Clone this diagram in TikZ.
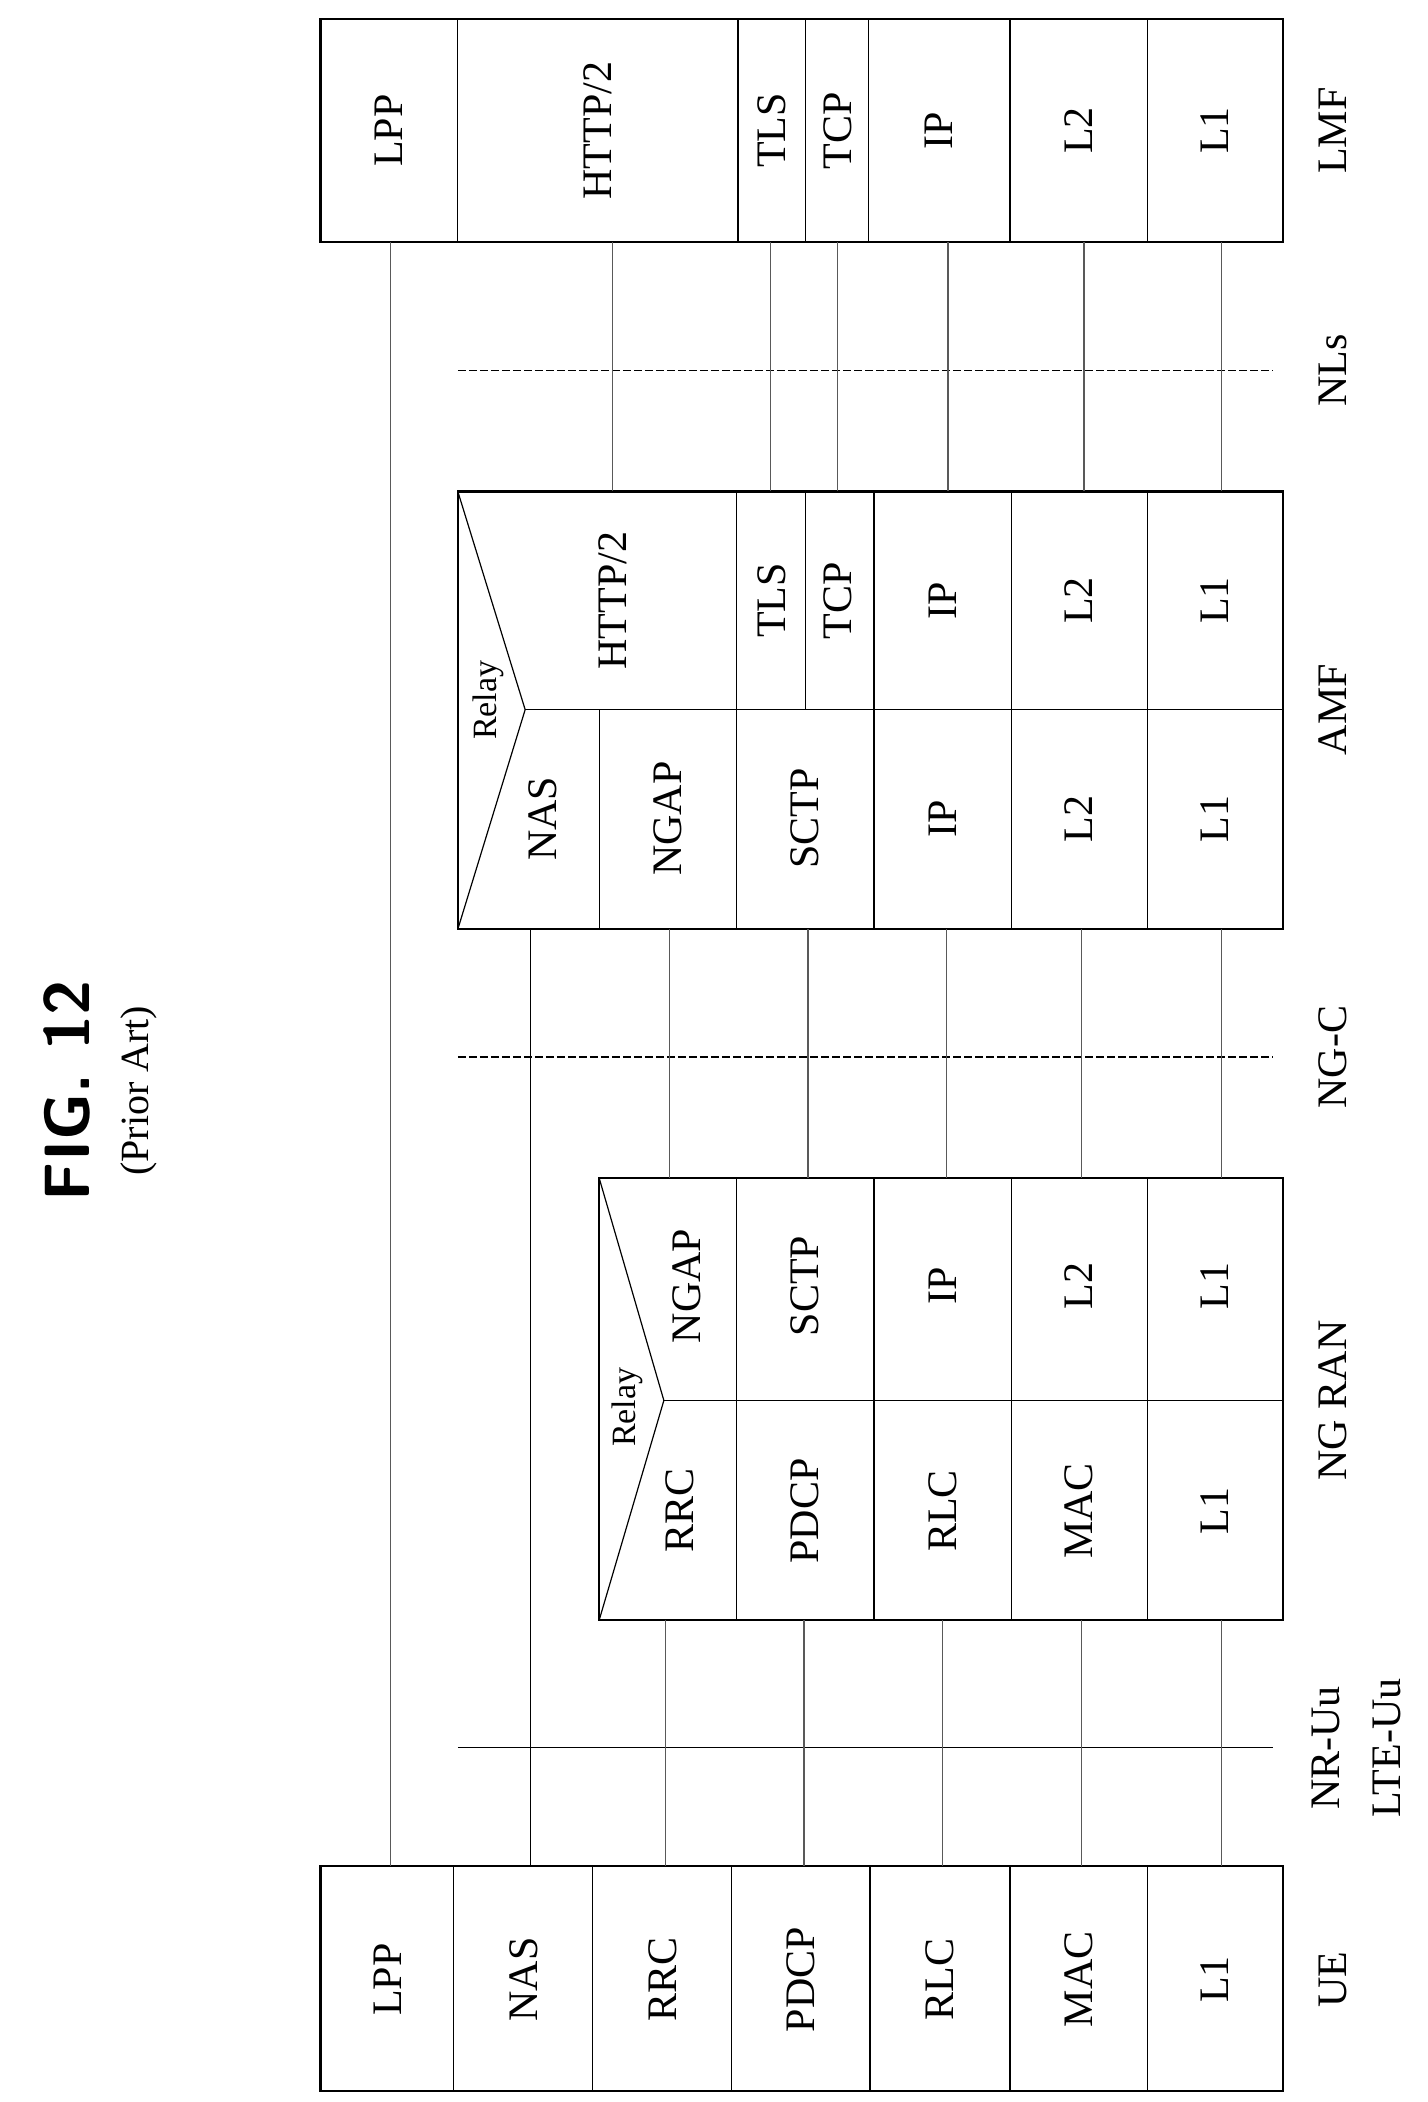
\documentclass[tikz,border=0pt]{standalone}
\usepackage{fontspec}
\setmainfont{Liberation Serif}
\begin{document}
\begin{tikzpicture}[x=0.673pt,y=-0.673pt,
  box/.style={draw,line width=1.1pt},
  cell/.style={draw,line width=0.6pt},
  lbl/.style={rotate=90,font=\fontsize{21}{24}\selectfont},
  rl/.style={rotate=90,font=\fontsize{17}{20}\selectfont},
  conn/.style={line width=0.6pt},
  iface/.style={line width=0.6pt,dash pattern=on 4pt off 1.5pt}]
\useasboundingbox (0,0) rectangle (1060,1561);
% Title
\node[rotate=90,font=\sffamily\bfseries\fontsize{32}{36}\selectfont] (fig) at (50,810) {FIG. 12};
\node[rotate=90,font=\fontsize{20}{24}\selectfont] (pa) at (103,810) {(Prior Art)};
% LMF
\foreach \a/\b in {340/548,548/645,645/750,750/852,852/953} \draw[cell] (\a,14) -- (\a,180);
\draw[cell] (598,14) -- (598,180);
\draw[box] (238,14) rectangle (953,180);
\node[lbl] (lmf1) at (289,97) {LPP};
\node[lbl] (lmf2) at (444,97) {HTTP/2};
\node[lbl] (lmf3) at (573,97) {TLS};
\node[lbl] (lmf4) at (622,97) {TCP};
\node[lbl] (lmf5) at (697,97) {IP};
\node[lbl] (lmf6) at (801,97) {L2};
\node[lbl] (lmf7) at (902,97) {L1};
\node[lbl] (lmf) at (990,97) {LMF};
% AMF
\draw[cell] (445,527) -- (445,690);
\draw[cell] (547,365) -- (547,690);
\draw[cell] (649,365) -- (649,690);
\draw[cell] (751,365) -- (751,690);
\draw[cell] (852,365) -- (852,690);
\draw[cell] (598,365) -- (598,527);
\draw[cell] (390,527) -- (953,527);
\draw[cell] (340,365) -- (390,527) -- (340,690);
\draw[box] (340,365) rectangle (953,690);
\node[lbl] at (455,446) {HTTP/2};
\node[lbl] at (573,446) {TLS};
\node[lbl] at (622,446) {TCP};
\node[lbl] at (700,446) {IP};
\node[lbl] at (801,446) {L2};
\node[lbl] at (902,446) {L1};
\node[rl] at (363,520) {Relay};
\node[lbl] at (403,608) {NAS};
\node[lbl] at (496,608) {NGAP};
\node[lbl] at (598,608) {SCTP};
\node[lbl] at (700,608) {IP};
\node[lbl] at (801,608) {L2};
\node[lbl] at (902,608) {L1};
\node[lbl] (amf) at (990,527) {AMF};
% NG RAN
\foreach \a in {547,649,751,852} \draw[cell] (\a,875) -- (\a,1203);
\draw[cell] (493,1040) -- (953,1040);
\draw[cell] (445,875) -- (493,1040) -- (445,1203);
\draw[box] (445,875) rectangle (953,1203);
\node[lbl] at (510,955) {NGAP};
\node[lbl] at (598,955) {SCTP};
\node[lbl] at (700,955) {IP};
\node[lbl] at (801,955) {L2};
\node[lbl] at (902,955) {L1};
\node[rl] at (466,1045) {Relay};
\node[lbl] at (505,1122) {RRC};
\node[lbl] at (598,1122) {PDCP};
\node[lbl] at (700,1122) {RLC};
\node[lbl] at (801,1122) {MAC};
\node[lbl] at (902,1122) {L1};
\node[lbl] (ran) at (990,1040) {NG RAN};
% UE
\foreach \a in {337,440,543,646,750,852} \draw[cell] (\a,1386) -- (\a,1553);
\draw[box] (238,1386) rectangle (953,1553);
\foreach \t/\x in {LPP/288,NAS/389,RRC/492,PDCP/595,RLC/698,MAC/801,L1/902}
  \node[lbl] at (\x,1470) {\t};
\node[lbl] (ue) at (990,1470) {UE};
% interfaces
\draw[iface] (340,275) -- (945,275);
\node[lbl] (nls) at (990,275) {NLs};
\draw[iface] (340,785) -- (945,785);
\node[lbl] (ngc) at (990,785) {NG-C};
\draw[conn] (340,1298) -- (945,1298);
\node[lbl] (nru) at (985,1298) {NR-Uu};
\node[lbl] (lteu) at (1030,1298) {LTE-Uu};
% connectors
\coordinate (a1) at (290,180); \coordinate (b1) at (290,1386);
\draw[conn,gray!70!black] (a1) -- (b1);
\coordinate (a2) at (394,690); \coordinate (b2) at (394,1386);
\draw[conn] (a2) -- (b2);
\foreach \x in {494,597,700,803,907} \draw[conn,gray!70!black] (\x,1203) -- (\x,1386);
\foreach \x in {497,600,703,803,907} \draw[conn,gray!70!black] (\x,690) -- (\x,875);
\foreach \x in {455,572,622,704,805,907} \draw[conn,gray!70!black] (\x,180) -- (\x,365);
\end{tikzpicture}
\end{document}
